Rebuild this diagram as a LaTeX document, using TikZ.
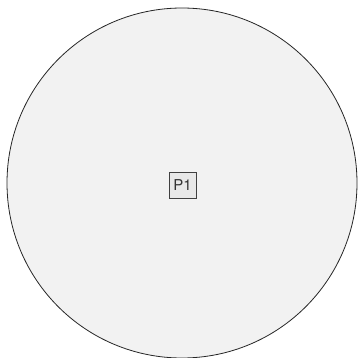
\documentclass[tikz,border=0pt]{standalone}
\usepackage{fontspec}
\setmainfont{TeX Gyre Heros}
\begin{document}
\begin{tikzpicture}[x=1pt,y=-1pt,
  region/.style={draw=black!85,fill=black!5,line width=0.8pt},
  label/.style={draw=black!75,fill=black!9,line width=0.6pt,inner sep=0pt,minimum width=27pt,minimum height=26pt,font=\fontsize{15}{15}\selectfont,text=black!80}]
\useasboundingbox (0,0) rectangle (359,358);
\begin{scope}
\clip (0,0) rectangle (359,358);
\node[region,circle,minimum size=350pt,inner sep=0pt] (c) at (182,183) {};
\end{scope}
\node[label] (p1) at (182.5,185) {P1};
\end{tikzpicture}
\end{document}
